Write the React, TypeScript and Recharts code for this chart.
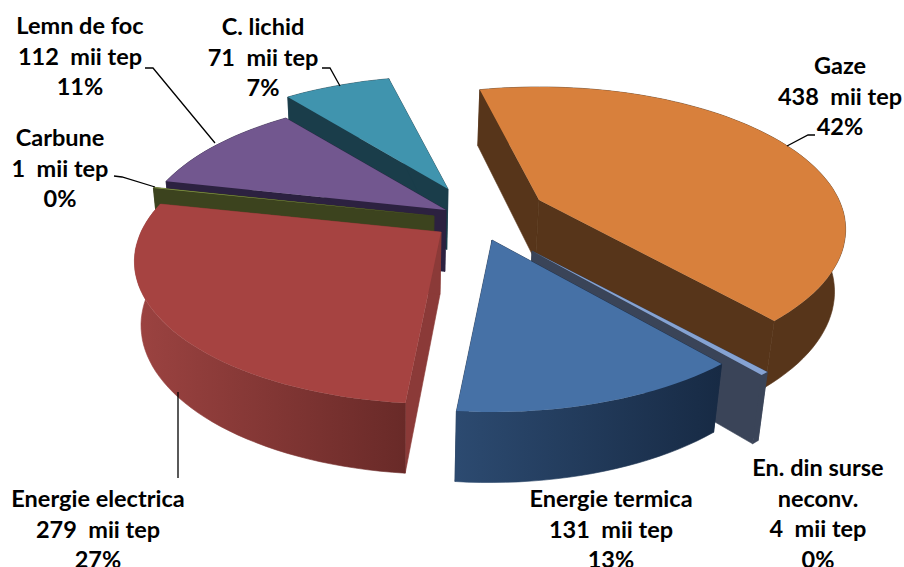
import React from 'react';
import { PieChart, Pie } from 'recharts';

const names = ['Gaze', 'En. din surse|neconv.', 'Energie termica', 'Energie electrica', 'Carbune', 'Lemn de foc', 'C. lichid'];
const values = [438, 4, 131, 279, 1, 112, 71];
const topColors = ['#d8803c', '#86a3d3', '#4671a6', '#a64341', '#8a9e48', '#72578f', '#4094ae'];
const sideColors = ['#57351a', '#3a4458', '#1a2c46', '#8b3a38', '#3c431e', '#2c2140', '#1a3d4a'];
const rimFrom = ['#57351a', '#3a4458', '#2c4a70', '#9c4341', '#3c431e', '#2c2140', '#1a3d4a'];
const rimTo = ['#57351a', '#3a4458', '#172a44', '#692a28', '#3c431e', '#2c2140', '#1a3d4a'];

// painter's order, back slices first
const drawOrder = [6, 5, 4, 3, 0, 1, 2];

// how far each slice is pulled out of the pie, px
const explode = [[89, -20], [82, 31], [42, 20], [-9, 12], [-16, -4], [-4, -10], [-2, -31]];

const labelSpots = [
  { x: 840, y: 66 },
  { x: 818, y: 468 },
  { x: 611, y: 499 },
  { x: 98, y: 499 },
  { x: 60, y: 138 },
  { x: 80, y: 26 },
  { x: 263, y: 27 },
];
const leaders = [
  '787,146 808,135 815,135',
  '',
  '',
  '178,392 178,478',
  '114,176 122,177 155,187',
  '145,68 153,68 215,143',
  '322,68 330,68 340,86',
];

const tableData = names.map((name, i) => ({ name, value: values[i], index: i }));
const total = values.reduce((a, b) => a + b, 0);

const TILT = 0.4547;
const PERSPECTIVE = 0.207;
const VANISH_X = 400;

const planePoint = (ox: number, oy: number, r: number, deg: number) => {
  const t = (deg * Math.PI) / 180;
  const u = Math.sin(t);
  const v = -Math.cos(t);
  const w = 1 - PERSPECTIVE * v;
  return [ox + (r * u) / w, oy + (r * TILT * v) / w];
};

const drop = (p: number[]) => [VANISH_X + (p[0] - VANISH_X) * 0.975, p[1] + 52 + 0.045 * p[1]];

const toPath = (pts: number[][]) =>
  pts.map((p, i) => `${i ? 'L' : 'M'}${p[0].toFixed(1)} ${p[1].toFixed(1)}`).join(' ') + ' Z';

const sliceShape = (only: number) => (props: any) => {
  const i = props.index ?? props.payload?.index;
  if (i !== only) return <g />;
  const { cx, cy, outerRadius, startAngle, endAngle } = props;
  const ox = cx + explode[i][0];
  const oy = cy + explode[i][1];
  // recharts angles run counter-clockwise from east, the plane runs clockwise from north
  const from = 90 - startAngle;
  const to = 90 - endAngle;
  const steps = Math.max(2, Math.ceil(Math.abs(to - from) / 2));
  const arc: number[][] = [];
  for (let s = 0; s <= steps; s++) {
    arc.push(planePoint(ox, oy, outerRadius, from + ((to - from) * s) / steps));
  }
  const apex = [ox, oy];
  const first = arc[0];
  const last = arc[arc.length - 1];
  const gradId = `rim-${i}`;
  const side = { fill: sideColors[i], stroke: sideColors[i], strokeWidth: 0.6 };
  return (
    <g>
      <defs>
        <linearGradient id={gradId} gradientUnits="userSpaceOnUse" x1={Math.min(...arc.map(p => p[0]))} y1="0" x2={Math.max(...arc.map(p => p[0]))} y2="0">
          <stop offset="0" stopColor={rimFrom[i]} />
          <stop offset="1" stopColor={rimTo[i]} />
        </linearGradient>
      </defs>
      <path d={toPath([apex, first, drop(first), drop(apex)])} {...side} />
      <path d={toPath([apex, last, drop(last), drop(apex)])} {...side} />
      <path d={toPath([...arc, ...arc.map(drop).reverse()])} fill={`url(#${gradId})`} stroke={`url(#${gradId})`} strokeWidth={0.6} />
      <path d={toPath([apex, ...arc])} fill={topColors[i]} />
    </g>
  );
};

const renderLabel = (props: any) => {
  const i = props.index;
  const lines = [...names[i].split('|'), `${values[i]}  mii tep`, `${Math.round((values[i] / total) * 100)}%`];
  return (
    <g key={i}>
      {leaders[i] && <polyline points={leaders[i]} fill="none" stroke="#000" strokeWidth={1.3} />}
      {lines.map((line, n) => (
        <text
          key={n}
          x={labelSpots[i].x}
          y={labelSpots[i].y + n * 30.5 + 8}
          textAnchor="middle"
          fontFamily="Lato, sans-serif"
          fontWeight={700}
          fontSize={23.5}
          fill="#000"
          style={{ whiteSpace: 'pre' }}
        >
          {line}
        </text>
      ))}
    </g>
  );
};

export default function App() {
  return (
    <div style={{ position: 'absolute', left: 0, top: 0 }}>
      <PieChart width={904} height={567} margin={{ top: 0, right: 0, bottom: 0, left: 0 }}>
        {drawOrder.map(only => (
          <Pie
            key={only}
            data={tableData}
            dataKey="value"
            nameKey="name"
            cx={450}
            cy={220}
            outerRadius={300}
            startAngle={103.7}
            endAngle={-256.3}
            stroke="none"
            isAnimationActive={false}
            shape={sliceShape(only)}
            label={only === 2 ? renderLabel : false}
            labelLine={false}
          />
        ))}
      </PieChart>
    </div>
  );
}
